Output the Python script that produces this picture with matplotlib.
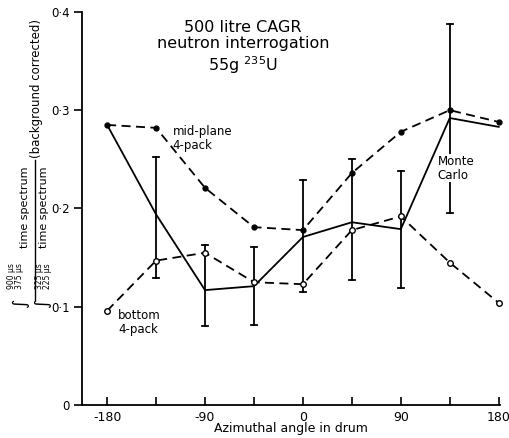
import matplotlib.pyplot as plt
import numpy as np

angle = [-180, -135, -90, -45, 0, 45, 90, 135, 180]

# mid-plane 4-pack (dashed, filled dots)
midplane = [0.285, 0.282, 0.221, 0.181, 0.178, 0.236, 0.278, 0.300, 0.288]
# bottom 4-pack (dashed, open circles)
bottom = [0.096, 0.147, 0.155, 0.125, 0.123, 0.178, 0.192, 0.145, 0.104]
# Monte Carlo (solid, with error bars)
monte = [0.285, 0.194, 0.117, 0.121, 0.171, 0.186, 0.179, 0.292, 0.283]
mc_lo = [None, 0.129, 0.080, 0.082, 0.115, 0.127, 0.119, 0.195, None]
mc_hi = [None, 0.252, 0.163, 0.161, 0.229, 0.250, 0.238, 0.388, None]

W, H = 510, 438


def fx(px):
    return px / W


def fy(py):
    return 1 - py / H


plt.rcParams['font.family'] = 'DejaVu Sans'
fig = plt.figure(figsize=(5.1, 4.38), dpi=100)
ax = fig.add_axes([0.161, 0.075, 0.819, 0.898])

ax.plot(angle, monte, '-', color='black', lw=1.3, clip_on=False)
for a, lo, hi in zip(angle, mc_lo, mc_hi):
    if lo is not None:
        ax.plot([a, a], [lo, hi], color='black', lw=1.3)
        ax.plot([a - 3, a + 3], [lo, lo], color='black', lw=1.3)
        ax.plot([a - 3, a + 3], [hi, hi], color='black', lw=1.3)

ax.plot(angle, midplane, '--', color='black', lw=1.3, dashes=(5, 3),
        marker='o', ms=3.5, mfc='black', mec='black', clip_on=False)
ax.plot(angle, bottom, '--', color='black', lw=1.3, dashes=(5, 3),
        marker='o', ms=4, mfc='white', mec='black', clip_on=False)

ax.set_xlim(-203, 181)
ax.set_ylim(0, 0.4)
ax.set_xticks(np.arange(-180, 181, 45))
ax.set_xticklabels(['-180', '', '-90', '', '0', '', '90', '', '180'])
ax.set_yticks([0, 0.1, 0.2, 0.3, 0.4])
ax.set_yticklabels(['0', '0·1', '0·2', '0·3', '0·4'])
ax.tick_params(axis='x', direction='in', length=6, width=1.2, labelsize=9, pad=4)
ax.tick_params(axis='y', direction='out', length=6, width=1.2, labelsize=8.5,
               pad=3)
for s in ['top', 'right']:
    ax.spines[s].set_visible(False)
for s in ['left', 'bottom']:
    ax.spines[s].set_linewidth(1.3)

ax.set_xlabel('Azimuthal angle in drum', fontsize=9, labelpad=-1)

# y label: ratio of integrated time spectra, built up piece by piece
fig.add_artist(plt.Line2D([fx(35), fx(35)], [fy(160), fy(300)],
                          transform=fig.transFigure, color='black', lw=1))
fig.text(fx(25), fy(207), 'time spectrum', rotation=90, fontsize=8,
         ha='center', va='center')
fig.text(fx(44), fy(207), 'time spectrum', rotation=90, fontsize=8,
         ha='center', va='center')
fig.text(fx(37), fy(88), '(background corrected)', rotation=90, fontsize=8.5,
         ha='center', va='center')
for px, lab in [(12, '900 µs'), (20, '375 µs'), (39, '325 µs'), (47, '225 µs')]:
    fig.text(fx(px), fy(276), lab, rotation=90, fontsize=5.5,
             ha='center', va='center')
for px in [20, 42]:
    fig.text(fx(px), fy(303), '∫', rotation=90, fontsize=13,
             ha='center', va='center')

ax.text(-55, 0.392, '500 litre CAGR\nneutron interrogation\n55g $^{235}$U',
        ha='center', va='top', fontsize=11.5, linespacing=1.15)
ax.text(-120, 0.271, 'mid-plane\n4-pack', fontsize=8.5, ha='left', va='center',
        linespacing=1.1)
ax.text(-170, 0.084, 'bottom\n4-pack', fontsize=8.5, ha='left', va='center',
        linespacing=1.1)
ax.text(124, 0.241, 'Monte\nCarlo', fontsize=8.5, ha='left', va='center',
        linespacing=1.1, bbox=dict(fc='white', ec='none', pad=0.5))

fig.savefig('out.png', dpi=100)
